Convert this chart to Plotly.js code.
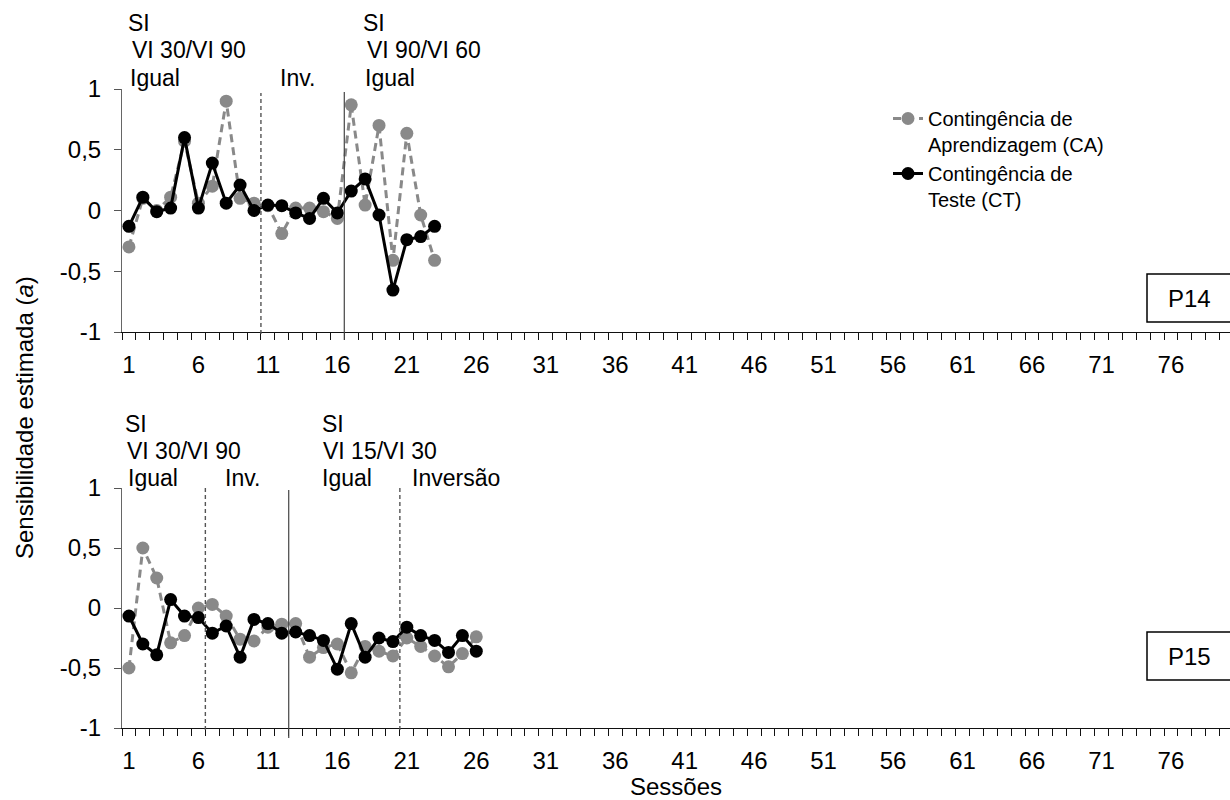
<!DOCTYPE html>
<html>
<head>
<meta charset="utf-8">
<script src="https://cdn.plot.ly/plotly-3.0.1.min.js"></script>
<style>html,body{margin:0;padding:0;background:#fff;}#chart{width:1230px;height:800px;}</style>
</head>
<body>
<div id="chart"></div>
<script>
// ---- Data ----
var sessionsP14 = [1,2,3,4,5,6,7,8,9,10,11,12,13,14,15,16,17,18,19,20,21,22,23];
var caP14 = [-0.30,0.10,0.00,0.11,0.57,0.06,0.20,0.90,0.10,0.06,0.04,-0.19,0.02,0.02,-0.01,-0.065,0.87,0.045,0.70,-0.41,0.635,-0.037,-0.41];
var ctP14 = [-0.13,0.11,-0.01,0.02,0.60,0.02,0.39,0.06,0.21,0.00,0.045,0.04,-0.02,-0.065,0.10,-0.02,0.16,0.26,-0.037,-0.655,-0.24,-0.215,-0.13];

var sessionsP15 = [1,2,3,4,5,6,7,8,9,10,11,12,13,14,15,16,17,18,19,20,21,22,23,24,25,26];
var caP15 = [-0.50,0.50,0.25,-0.29,-0.23,0.00,0.03,-0.067,-0.26,-0.275,-0.16,-0.135,-0.13,-0.41,-0.33,-0.30,-0.54,-0.32,-0.36,-0.40,-0.25,-0.32,-0.40,-0.49,-0.38,-0.24];
var ctP15 = [-0.067,-0.30,-0.39,0.07,-0.067,-0.08,-0.21,-0.15,-0.41,-0.095,-0.13,-0.21,-0.20,-0.23,-0.27,-0.51,-0.13,-0.41,-0.25,-0.28,-0.16,-0.23,-0.27,-0.37,-0.23,-0.36];

var xTickVals = [1,6,11,16,21,26,31,36,41,46,51,56,61,66,71,76];
var yTickVals = [-1,-0.5,0,0.5,1];
var yTickText = ['-1','-0,5','0','0,5','1'];

var seriesNames = ['Contingência de<br>Aprendizagem (CA)', 'Contingência de<br>Teste (CT)'];

// phase change lines (session boundaries)
var p14Dashed = [10.5];
var p14Solid = [16.5];
var p15Dashed = [6.5, 20.5];
var p15Solid = [12.5];

// ---- Styles ----
var FONT = 'Liberation Sans, Arial, sans-serif';
var GRAY = '#898989';
var L = 122, T = 89, PW = 1108, PH = 639;
function px2x(px){ return (px - L) / PW; }
function py2y(py){ return (T + PH - py) / PH; }

var caStyle = {mode:'lines+markers', line:{color:GRAY, width:3, dash:'8px,5px'}, marker:{color:GRAY, size:13}};
var ctStyle = {mode:'lines+markers', line:{color:'#000', width:3}, marker:{color:'#000', size:13}};

var traces = [
  Object.assign({x:sessionsP14, y:caP14, name:seriesNames[0], xaxis:'x', yaxis:'y', showlegend:true}, caStyle),
  Object.assign({x:sessionsP14, y:ctP14, name:seriesNames[1], xaxis:'x', yaxis:'y', showlegend:true}, ctStyle),
  Object.assign({x:sessionsP15, y:caP15, name:seriesNames[0], xaxis:'x2', yaxis:'y2', showlegend:false}, caStyle),
  Object.assign({x:sessionsP15, y:ctP15, name:seriesNames[1], xaxis:'x2', yaxis:'y2', showlegend:false}, ctStyle)
];

function xAxis(anchor){
  return {
    anchor: anchor, domain:[0,1], range:[0.5, 80.25],
    tickmode:'array', tickvals:xTickVals, ticktext:xTickVals.map(String),
    ticks:'', showgrid:false, zeroline:false,
    showline:true, linecolor:'#111', linewidth:1,
    tickfont:{family:FONT, size:24, color:'#000'},
    ticklabelstandoff: 11,
    minor:{tickmode:'linear', tick0:0.5, dtick:1, ticks:'outside', ticklen:7, tickcolor:'#111', tickwidth:1, showgrid:false}
  };
}
function yAxis(anchor, domain){
  return {
    anchor: anchor, domain:domain, range:[-1,1],
    tickmode:'array', tickvals:yTickVals, ticktext:yTickText,
    ticks:'outside', ticklen:7, tickcolor:'#555', tickwidth:1,
    showgrid:false, zeroline:false, showline:true, linecolor:'#666', linewidth:1,
    tickfont:{family:FONT, size:24, color:'#000'},
    ticklabelstandoff: 8
  };
}

var shapes = [];
function vline(xv, xref, pyTop, pyBot, dashed){
  shapes.push({type:'line', xref:xref, yref:'paper', x0:xv, x1:xv, y0:py2y(pyBot), y1:py2y(pyTop),
    line:{color: dashed ? '#555' : '#444', width: dashed ? 1.4 : 1.2, dash: dashed ? '4px,3px' : 'solid'}});
}
p14Dashed.forEach(function(v){ vline(v, 'x', 93, 334, true); });
p14Solid.forEach(function(v){ vline(v, 'x', 92, 340, false); });
p15Dashed.forEach(function(v){ vline(v, 'x2', 488, 730, true); });
p15Solid.forEach(function(v){ vline(v, 'x2', 490, 738, false); });

// panel label boxes
shapes.push({type:'rect', xref:'paper', yref:'paper', x0:px2x(1147), x1:px2x(1232), y0:py2y(322), y1:py2y(274), line:{color:'#000', width:1.5}, fillcolor:'rgba(0,0,0,0)'});
shapes.push({type:'rect', xref:'paper', yref:'paper', x0:px2x(1147), x1:px2x(1232), y0:py2y(680), y1:py2y(632), line:{color:'#000', width:1.5}, fillcolor:'rgba(0,0,0,0)'});

var annotations = [];
function txt(s, px, py, opts, size){
  annotations.push(Object.assign({text:s, xref:'paper', yref:'paper', x:px2x(px), y:py2y(py), xanchor:'left', yanchor:'middle', showarrow:false,
    font:{family:FONT, size:size||24, color:'#000'}}, opts||{}));
}
// P14 phase labels
txt('SI', 126, 23.5, null, 23);
txt('VI 30/VI 90', 130, 50.5, null, 23);
txt('Igual', 128, 77.5, null, 23);
txt('Inv.', 278, 77.5, null, 23);
txt('SI', 361, 23.5, null, 23);
txt('VI 90/VI 60', 365, 50.5, null, 23);
txt('Igual', 363, 77.5, null, 23);
// P15 phase labels
txt('SI', 123, 423.5, null, 23);
txt('VI 30/VI 90', 125, 451, null, 23);
txt('Igual', 126, 478, null, 23);
txt('Inv.', 223, 478, null, 23);
txt('SI', 320, 423.5, null, 23);
txt('VI 15/VI 30', 321, 451, null, 23);
txt('Igual', 320, 478, null, 23);
txt('Inversão', 410, 478, null, 23);
// panel labels
txt('P14', 1189, 298, {xanchor:'center'});
txt('P15', 1189, 656, {xanchor:'center'});
// axis titles
txt('Sessões', 676, 786, {xanchor:'center'});
txt('Sensibilidade estimada (<i>a</i>)', 24, 418, {xanchor:'center', textangle:-90});

var layout = {
  width:1230, height:800,
  margin:{l:L, r:0, t:T, b:800-T-PH, pad:0},
  paper_bgcolor:'#fff', plot_bgcolor:'#fff',
  font:{family:FONT, color:'#000'},
  showlegend:true,
  legend:{x:px2x(888), xanchor:'left', y:py2y(99), yanchor:'top', valign:'top',
    font:{family:FONT, size:20, color:'#000'}, bgcolor:'rgba(0,0,0,0)', tracegroupgap:0},
  xaxis: xAxis('y'),
  yaxis: yAxis('x', [py2y(332), 1]),
  xaxis2: xAxis('y2'),
  yaxis2: yAxis('x2', [0, py2y(488)]),
  shapes: shapes,
  annotations: annotations
};

Plotly.newPlot('chart', traces, layout, {displayModeBar:false, staticPlot:true});
</script>
</body>
</html>
